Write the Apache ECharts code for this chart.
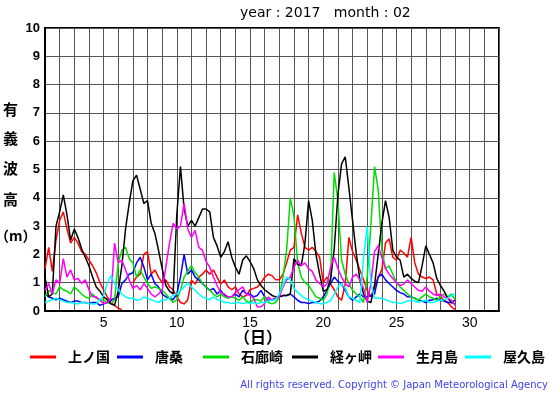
<!DOCTYPE html>
<html>
<head>
<meta charset="utf-8">
<script src="https://cdn.jsdelivr.net/npm/echarts@6/dist/echarts.min.js"></script>
<style>
html,body{margin:0;padding:0;background:#fff;}
#chart{width:555px;height:395px;}
</style>
</head>
<body>
<div id="chart"></div>
<script>
// Sampling: every 6 hours from day 1.00 to day 29.00
const startDay = 1;
const stepDay = 0.25;

const stationNames = ['上ノ国', '唐桑', '石廊崎', '経ヶ岬', '生月島', '屋久島'];
const stationColors = ['#ff0000', '#0000ff', '#00dd00', '#000000', '#ff00ff', '#00ffff'];

const xTickLabels = [5, 10, 15, 20, 25, 30];
const yTickLabels = [0, 1, 2, 3, 4, 5, 6, 7, 8, 9, 10];

const kaminokuni = [
  1.5, 2.25, 1.4, 2.5,
  3.2, 3.5, 2.9, 2.4,
  2.6, 2.4, 2.1, 2.0,
  1.8, 1.6, 1.35, 1.0,
  0.75, 0.5, 0.3, 0.2,
  0.1, 0.05, null, null,
  1.0, 1.2, 1.3, 2.0,
  2.1, 1.3, 1.45, 1.2,
  1.0, 1.1, 0.85, 0.75,
  0.5, 0.3, 0.25, 0.4,
  1.1, 0.95, 1.2, 1.3,
  1.45, 1.3, 1.45, 1.2,
  0.95, 1.1, 0.85, 0.75,
  0.85, 0.6, 0.5, 0.55,
  0.75, 0.8, 0.85, 1.0,
  1.2, 1.3, 1.25, 1.1,
  1.1, 1.3, 1.7, 2.15,
  2.25, 3.4, 2.75, 2.25,
  2.15, 2.25, 2.1, 1.9,
  1.0, 1.2, 0.95, 0.75,
  0.5, 0.38, 0.95, 2.6,
  2.1, 1.8, 1.45, 1.1,
  0.73, 0.5, 0.85, 1.2,
  1.45, 2.4, 2.55, 1.9,
  1.8, 2.15, 2.05, 1.9,
  2.6, 1.7, 1.3, 1.2,
  1.15, 1.2, 1.1, 0.6,
  0.5, 0.38, 0.3, 0.15,
  0.05
];

const karakuwa = [
  0.6, 0.5, 0.45, 0.4,
  0.45, 0.4, 0.35, 0.3,
  0.35, 0.35, 0.3, 0.3,
  0.26, 0.3, 0.3, 0.2,
  0.25, 0.3, 0.38, 0.45,
  0.5, 0.97, 1.1, 1.3,
  1.35, 1.7, 1.9, 1.55,
  1.1, 1.3, 0.97, 0.85,
  0.6, 0.5, 0.45, 0.4,
  0.6, 1.2, 2.0, 1.3,
  1.45, 1.2, 1.1, 0.97,
  0.85, 0.73, 0.8, 0.6,
  0.73, 0.55, 0.5, 0.5,
  0.6, 0.5, 0.73, 0.6,
  0.6, 0.5, 0.55, 0.73,
  0.5, 0.38, 0.4, 0.45,
  0.5, 0.55, 0.55, 0.6,
  0.5, 0.38, 0.3, 0.3,
  0.26, 0.3, 0.3, 0.35,
  0.5, 0.73, 0.97, 1.2,
  1.05, 0.97, 0.73, 0.5,
  0.38, 0.5, 0.6, 0.5,
  0.5, 0.55, 0.6, 1.2,
  1.3, 1.1, 0.97, 0.85,
  0.73, 0.65, 0.6, 0.5,
  0.5, 0.45, 0.38, 0.35,
  0.3, 0.38, 0.4, 0.45,
  0.38, 0.35, 0.3, 0.3,
  0.38
];

const irozaki = [
  0.5, 0.73, 0.65, 0.6,
  0.85, 0.75, 0.7, 0.6,
  0.85, 0.73, 0.6, 0.5,
  0.45, 0.6, 0.45, 0.4,
  0.38, 0.3, 0.26, 0.4,
  1.7, 2.15, 2.25, 1.85,
  1.7, 1.2, 1.45, 1.2,
  0.97, 0.8, 0.85, 0.8,
  0.73, 0.6, 0.45, 0.3,
  0.4, 0.73, 1.2, 1.4,
  1.6, 1.35, 1.2, 0.97,
  0.85, 0.73, 0.6, 0.5,
  0.6, 0.5, 0.45, 0.5,
  0.45, 0.38, 0.5, 0.35,
  0.3, 0.4, 0.4, 0.35,
  0.5, 0.3, 0.25, 0.3,
  0.5, 1.2, 2.15, 4.0,
  3.35, 1.7, 1.2, 1.0,
  0.9, 0.7, 0.5, 0.45,
  0.38, 0.6, 1.2, 4.9,
  3.9, 1.8, 1.3, 0.97,
  0.73, 0.6, 0.5, 0.3,
  1.2, 3.0, 5.1, 4.3,
  2.15, 1.5, 1.6, 1.3,
  1.0, 0.85, 0.73, 0.6,
  0.5, 0.45, 0.38, 0.5,
  0.6, 0.5, 0.45, 0.38,
  0.5, 0.6, 0.5, 0.6,
  0.4
];

const kyogamisaki = [
  1.2, 0.5, 0.6, 3.0,
  3.5, 4.1, 3.4, 2.5,
  2.9, 2.6, 2.2, 1.9,
  1.6, 1.2, 0.85, 0.7,
  0.5, 0.4, 0.25, 0.2,
  0.7, 1.6, 2.9, 3.8,
  4.6, 4.8, 4.3, 3.8,
  3.9, 3.1, 2.75, 2.15,
  1.5, 0.9, 0.7, 0.6,
  3.4, 5.1, 3.6, 3.0,
  3.2, 3.0, 3.3, 3.6,
  3.6, 3.5, 2.6, 2.3,
  1.9, 2.1, 2.45, 1.9,
  1.55, 1.3, 1.8, 1.95,
  1.75, 1.5, 1.1, 0.9,
  0.75, 0.65, 0.55, 0.5,
  0.5, 0.55, 0.55, 0.6,
  1.85, 1.65, 1.6, 2.4,
  3.9, 3.2, 2.0, 1.3,
  0.7, 0.75, 1.1, 2.2,
  4.1, 5.2, 5.45, 4.35,
  3.2, 2.05, 1.1, 0.6,
  0.35, 0.3, 0.9, 2.0,
  3.1, 3.9, 3.3, 2.15,
  1.9, 1.8, 1.2, 1.3,
  1.15, 1.05, 1.0, 1.6,
  2.3, 2.0, 1.7, 1.15,
  0.9, 0.7, 0.45, 0.3,
  0.25
];

const ikitsukishima = [
  0.73, 0.97, 0.6, 1.1,
  0.97, 1.85, 1.2, 1.45,
  1.1, 1.15, 0.97, 1.1,
  0.75, 0.5, 0.5, 0.38,
  0.26, 0.3, 0.45, 2.4,
  1.7, 1.8, 1.45, 1.1,
  0.8, 0.9, 0.75, 0.97,
  0.8, 0.6, 0.5, 0.6,
  0.73, 1.55, 2.4, 3.1,
  2.9, 3.0, 3.8, 2.9,
  2.6, 2.85, 2.25, 2.15,
  1.75, 1.55, 1.2, 0.9,
  0.65, 0.6, 0.5, 0.5,
  0.65, 0.75, 0.85, 0.6,
  0.55, 0.45, 0.14, 0.15,
  0.26, 0.5, 0.38, 0.45,
  0.5, 0.85, 1.1, 1.2,
  1.55, 1.8, 1.6, 1.7,
  1.5, 1.4, 1.1, 0.97,
  0.85, 0.95, 1.55, 1.9,
  1.5, 1.2, 0.97, 0.85,
  1.2, 1.3, 1.1, 0.8,
  0.3, 0.97, 2.1, 2.3,
  1.9, 1.5, 1.3, 1.15,
  1.0, 0.9, 0.95, 1.1,
  0.97, 0.85, 0.73, 0.7,
  0.85, 0.7, 0.6, 0.55,
  0.6, 0.5, 0.45, 0.38,
  0.2
];

const yakushima = [
  0.3, 0.35, 0.4, 0.45,
  0.4, 0.35, 0.3, 0.3,
  0.28, 0.25, 0.3, 0.3,
  0.26, 0.25, 0.26, 0.4,
  0.55, 0.97, 1.25, 0.97,
  0.75, 0.6, 0.5, 0.45,
  0.45, 0.38, 0.4, 0.5,
  0.45, 0.4, 0.35, 0.3,
  0.38, 0.4, 0.45, 0.55,
  0.6, 0.73, 0.85, 1.0,
  0.85, 0.73, 0.6, 0.5,
  0.45, 0.4, 0.5, 0.4,
  0.38, 0.3, 0.3, 0.26,
  0.3, 0.3, 0.26, 0.3,
  0.26, 0.3, 0.26, 0.3,
  0.3, 0.35, 0.38, 0.4,
  0.6, 0.9, 1.2, 1.1,
  0.8, 0.65, 0.55, 0.45,
  0.4, 0.35, 0.3, 0.26,
  0.26, 0.3, 0.38, 0.6,
  0.85, 0.97, 0.8, 0.5,
  0.45, 0.38, 0.3, 1.9,
  2.98, 0.97, 0.45, 0.45,
  0.45, 0.4, 0.35, 0.3,
  0.3, 0.26, 0.3, 0.35,
  0.38, 0.35, 0.3, 0.35,
  0.38, 0.3, 0.3, 0.35,
  0.38, 0.4, 0.45, 0.55,
  0.6
];

const seriesValues = [kaminokuni, karakuwa, irozaki, kyogamisaki, ikitsukishima, yakushima];

const FONT = "'Liberation Sans', 'Noto Sans CJK JP', sans-serif";
const CJK = "'Noto Sans CJK JP', sans-serif";

function toPairs(arr) {
  return arr.map((v, i) => [startDay + i * stepDay, v]);
}

const legendLeft = [30, 117, 203, 292, 378, 465];

const chart = echarts.init(document.getElementById('chart'), null, {renderer: 'canvas'});

const option = {
  animation: false,
  backgroundColor: '#ffffff',
  title: {
    text: 'year : 2017   month : 02',
    left: 240,
    top: 6,
    padding: 0,
    textStyle: {fontFamily: "'DejaVu Sans', sans-serif", fontSize: 14, fontWeight: 'normal', color: '#000'}
  },
  grid: {
    left: 45, top: 28, width: 454, height: 283,
    show: true, borderColor: '#000', borderWidth: 2, backgroundColor: 'transparent'
  },
  legend: stationNames.map((n, i) => ({
    data: [n],
    left: legendLeft[i],
    top: 350,
    padding: 0,
    icon: 'rect',
    itemWidth: 26,
    itemHeight: 3,
    selectedMode: false,
    textStyle: {fontFamily: CJK, fontSize: 14, fontWeight: 'bold', color: '#000', padding: [0, 0, 0, 7]}
  })),
  xAxis: {
    type: 'value',
    min: 1, max: 32, interval: 1,
    axisLine: {show: true, lineStyle: {color: '#000', width: 2}},
    axisTick: {show: false},
    splitLine: {show: true, lineStyle: {color: '#555', width: 1}},
    axisLabel: {
      fontFamily: FONT, fontSize: 14, color: '#000', margin: 5,
      formatter: v => (xTickLabels.indexOf(v) >= 0 ? String(v) : '')
    }
  },
  yAxis: {
    type: 'value',
    min: 0, max: 10, interval: 1,
    axisLine: {show: true, lineStyle: {color: '#000', width: 2}},
    axisTick: {show: false},
    splitLine: {show: true, lineStyle: {color: '#555', width: 1}},
    axisLabel: {
      fontFamily: FONT, fontSize: 13, fontWeight: 'bold', color: '#000', margin: 5,
      formatter: v => (yTickLabels.indexOf(v) >= 0 ? String(v) : '')
    }
  },
  series: stationNames.map((n, i) => ({
    name: n,
    type: 'line',
    data: toPairs(seriesValues[i]),
    showSymbol: false,
    symbol: 'none',
    connectNulls: false,
    lineStyle: {color: stationColors[i], width: 1.5},
    itemStyle: {color: stationColors[i]}
  })),
  graphic: [
    {type: 'text', left: 3, top: 102, style: {text: '有', font: "bold 15px " + CJK, fill: '#000'}},
    {type: 'text', left: 3, top: 131, style: {text: '義', font: "bold 15px " + CJK, fill: '#000'}},
    {type: 'text', left: 3, top: 161, style: {text: '波', font: "bold 15px " + CJK, fill: '#000'}},
    {type: 'text', left: 3, top: 192, style: {text: '高', font: "bold 15px " + CJK, fill: '#000'}},
    {type: 'text', left: -5, top: 229, style: {text: '（m）', font: "bold 14px " + CJK, fill: '#000'}},
    {type: 'text', left: 234, top: 329, style: {text: '（日）', font: "bold 16px " + CJK, fill: '#000'}},
    {type: 'text', right: 7, top: 380, style: {text: 'All rights reserved. Copyright © Japan Meteorological Agency', font: "10px 'DejaVu Sans', sans-serif", fill: '#4040f0'}}
  ]
};

chart.setOption(option);
</script>
</body>
</html>
